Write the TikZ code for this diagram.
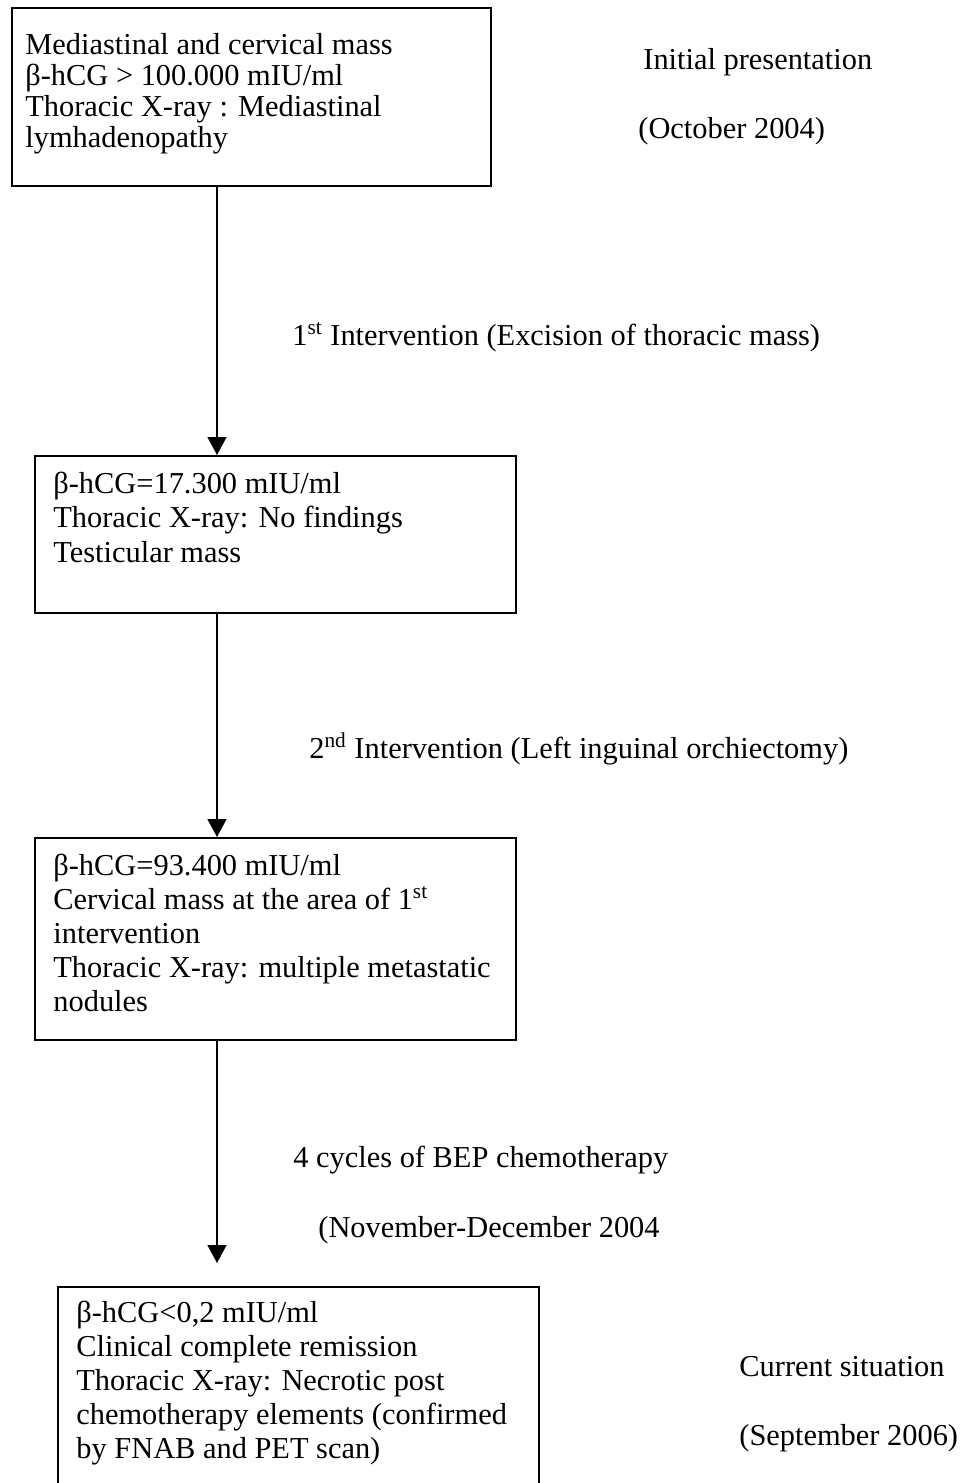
\documentclass[tikz,border=0pt]{standalone}
\usepackage{fontspec}
\setmainfont{Liberation Serif}
\usetikzlibrary{arrows.meta}
\tikzset{
  stagebox/.style={draw, line width=1pt, rectangle, inner sep=0pt, anchor=north west},
  stagetext/.style={anchor=base west, align=left, inner sep=0pt, font=\fontsize{15.2}{17}\selectfont},
  sidetext/.style={anchor=base west, inner sep=0pt, font=\fontsize{15.2}{17}\selectfont},
  flow/.style={line width=0.75pt, -{Triangle[length=9pt,width=9.5pt]}}
}

\begin{document}
\begin{tikzpicture}[x=0.5pt, y=-0.5pt]
        \useasboundingbox (0,0) rectangle (961,1483);
        % boxes
        \node[stagebox, minimum width=239.5pt, minimum height=89pt] (b1) at (11,7) {};
        \node[stagebox, minimum width=240.5pt, minimum height=78.5pt] (b2) at (34,455) {};
        \node[stagebox, minimum width=240.5pt, minimum height=101pt] (b3) at (34,837) {};
        \node[stagebox, minimum width=240.5pt, minimum height=105pt] (b4) at (57,1286) {};
        % box texts (placed at the baseline of their last line)
        \node[stagetext, font=\fontsize{15.2}{15.35}\selectfont] (t1) at (25,147) {Mediastinal and cervical mass\\ β-hCG > 100.000 mIU/ml\\ Thoracic X-ray : Mediastinal\\ lymhadenopathy};
        \node[stagetext, font=\fontsize{15.2}{17.25}\selectfont] (t2) at (53,562) {β-hCG=17.300 mIU/ml\\ Thoracic X-ray: No findings\\ Testicular mass};
        \node[stagetext] (t3) at (53,1011) {β-hCG=93.400 mIU/ml\\ Cervical mass at the area of 1\textsuperscript{st}\\ intervention\\ Thoracic X-ray: multiple metastatic\\ nodules};
        \node[stagetext] (t4) at (76,1458) {β-hCG<0,2 mIU/ml\\ Clinical complete remission\\ Thoracic X-ray: Necrotic post\\ chemotherapy elements (confirmed\\ by FNAB and PET scan)};
        % side labels
        \node[sidetext] (s1) at (643,69) {Initial presentation};
        \node[sidetext] (s2) at (638,138) {(October 2004)};
        \node[sidetext] (l1) at (292,345) {1\textsuperscript{st} Intervention (Excision of thoracic mass)};
        \node[sidetext] (l2) at (309,758) {2\textsuperscript{nd} Intervention (Left inguinal orchiectomy)};
        \node[sidetext] (l3) at (293,1167) {4 cycles of BEP chemotherapy};
        \node[sidetext] (l4) at (318,1237) {(November-December 2004};
        \node[sidetext] (s3) at (739,1376) {Current situation};
        \node[sidetext] (s4) at (739,1445) {(September 2006)};
        % arrows
        \coordinate (ax) at (217,0);
        \coordinate (tip4) at (217,1263);
        \draw[flow] (b1.south -| ax) -- (b2.north -| ax);
        \draw[flow] (b2.south -| ax) -- (b3.north -| ax);
        \draw[flow] (b3.south -| ax) -- (tip4);
\end{tikzpicture}
\end{document}
